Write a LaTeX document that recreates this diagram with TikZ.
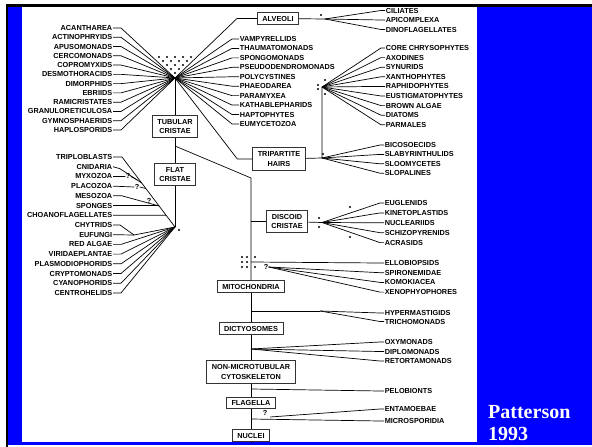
\documentclass[tikz,border=0pt]{standalone}
\usepackage{fontspec}
\setmainfont{Liberation Sans}
\newfontfamily\yearfont{Liberation Serif}
\usetikzlibrary{calc}

\begin{document}
\begin{tikzpicture}[x=1pt, y=-1pt,
    taxon/.style={font=\bfseries\fontsize{7.3}{8}\selectfont, inner sep=0.6pt},
    feature/.style={draw=black!80, line width=0.9pt, fill=white,
      font=\bfseries\fontsize{7.3}{9.5}\selectfont, align=center,
      inner xsep=5pt, inner ysep=3pt},
    twoline/.style={feature, inner ysep=4pt},
    link/.style={line width=0.7pt},
    qmark/.style={taxon, inner sep=0.3pt}]
  \useasboundingbox (0,0) rectangle (592,447);
  \fill[blue] (8,7) rectangle (592,445);% slide background
  \fill[white] (22,7) rectangle (477,442);% the panel
  \fill[black] (6,4) rectangle (592,7);
  \fill[black] (6,4) rectangle (8,447);
  \node[anchor=north west, inner sep=0pt, text=white, align=left,
    font=\yearfont\bfseries\fontsize{20}{22}\selectfont] (Ref) at (488,405) {Patterson\\1993};

  % the boxes on the stem
  \node[feature] (Alveoli) at (278,18.5) {ALVEOLI};
  \node[twoline] (Tubular) at (175,126.5) {TUBULAR\\CRISTAE};
  \node[twoline] (Tripartite) at (279,159) {TRIPARTITE\\HAIRS};
  \node[twoline] (Flat) at (175,174.5) {FLAT\\CRISTAE};
  \node[twoline] (Discoid) at (287,221.5) {DISCOID\\CRISTAE};
  \node[feature] (Mito) at (251,286.5) {MITOCHONDRIA};
  \node[feature] (Dicty) at (251,328.5) {DICTYOSOMES};
  \node[twoline] (NonMicro) at (251,372) {NON-MICROTUBULAR\\CYTOSKELETON};
  \node[feature] (Flag) at (251,403) {FLAGELLA};
  \node[feature] (Nuclei) at (251,435.5) {NUCLEI};

  \coordinate (TubFan)     at (175,78);
  \coordinate (AlvFan)     at (325,19);
  \coordinate (StrFan)     at (322,87);
  \coordinate (TripFan)    at (322,158);
  \coordinate (FlatFan)    at (175,227);
  \coordinate (DiscFan)    at (322,222.5);
  \coordinate (TubBranch)  at (175,146);
  \coordinate (TrunkBend)  at (251,178);
  \coordinate (DiscJoin)   at (251,221.5);
  \coordinate (MitoJoin)   at (251,262);
  \coordinate (HypJoin)    at (251,311);
  \coordinate (HypSplit)   at (320,311);
  \coordinate (OxyJoin)    at (251,349);
  \coordinate (PeloJoin)   at (251,389);
  \coordinate (MicJoin)    at (251,419);
  \coordinate (EntStart)   at (270,417);
  \coordinate (Root)       at (251,442);

  % main stem
  \draw[link] (TubFan) -- (Tubular);
  \draw[link] (Tubular) -- (Flat);
  \draw[link] (Flat) -- (FlatFan);
  \draw[link] (TubBranch) -- (TrunkBend) -- (Mito);
  \draw[link] (Mito) -- (Dicty);
  \draw[link] (Dicty) -- (NonMicro);
  \draw[link] (NonMicro) -- (Flag);
  \draw[link] (Flag) -- (Nuclei);
  \draw[link] (Nuclei) -- (Root);
  \draw[link] (Alveoli.west) -- ++(-20,0) -- (TubFan);
  \draw[link] (Alveoli) -- (AlvFan);
  \draw[link] (Tripartite.west) -- ++(-15,0) -- (TubFan);
  \draw[link] (Tripartite) -- (TripFan) -- (StrFan);
  \draw[link] (DiscJoin) -- (Discoid);
  \draw[link] (Discoid) -- (DiscFan);

  % dots over the forks
  \foreach \r in {0,...,4}{%
    \pgfmathtruncatemacro\lastdot{4-\r}
    \foreach \c in {0,...,\lastdot}
      \fill (159+4*\r+8*\c, 57+4*\r) circle (1.1pt);
  }
  \foreach \p in {(321,15),(325,80),(318,85),(318,89),(325,94),(323,154),(179,230),
      (319,218),(319,227),(350,207),(350,237),(255,257),(255,267)}
    \fill \p circle (1.1pt);
  \foreach \px in {242,247}
    \foreach \py in {257,262,267}
      \fill (\px,\py) circle (1.1pt);

  % left of the first fork
  \foreach \taxname [count=\i] in {ACANTHAREA, ACTINOPHRYIDS, APUSOMONADS, CERCOMONADS,
      COPROMYXIDS, DESMOTHORACIDS, DIMORPHIDS, EBRIIDS, RAMICRISTATES, GRANULORETICULOSA,
      GYMNOSPHAERIDS, HAPLOSPORIDS}{%
    \node[taxon, anchor=east] (TubL\i) at (113,{28+9.27*(\i-1)}) {\taxname};
    \draw[link] (TubL\i.east) -- ++(8,0) -- (TubFan);
  }
  % right of the first fork
  \foreach \taxname [count=\i] in {VAMPYRELLIDS, THAUMATOMONADS, SPONGOMONADS,
      PSEUDODENDROMONADS, POLYCYSTINES, PHAEODAREA, PARAMYXEA, KATHABLEPHARIDS,
      HAPTOPHYTES, EUMYCETOZOA}{%
    \node[taxon, anchor=west] (TubR\i) at (239,{39+9.44*(\i-1)}) {\taxname};
    \draw[link] (TubR\i.west) -- ++(-7,0) -- (TubFan);
  }
  \foreach \taxname [count=\i] in {CILIATES, APICOMPLEXA, DINOFLAGELLATES}{%
    \node[taxon, anchor=west] (Alv\i) at (385,{10.5+9.5*(\i-1)}) {\taxname};
    \draw[link] (Alv\i.west) -- ++(-4,0) -- (AlvFan);
  }
  \foreach \taxname [count=\i] in {CORE CHRYSOPHYTES, AXODINES, SYNURIDS, XANTHOPHYTES,
      RAPHIDOPHYTES, EUSTIGMATOPHYTES, BROWN ALGAE, DIATOMS, PARMALES}{%
    \node[taxon, anchor=west] (Str\i) at (385,{48+9.6*(\i-1)}) {\taxname};
    \draw[link] (Str\i.west) -- ++(-4,0) -- (StrFan);
  }
  \foreach \taxname [count=\i] in {BICOSOECIDS, SLABYRINTHULIDS, SLOOMYCETES, SLOPALINES}{%
    \node[taxon, anchor=west] (Trip\i) at (384,{145+9.4*(\i-1)}) {\taxname};
    \draw[link] (Trip\i.west) -- ++(-4,0) -- (TripFan);
  }
  \foreach \taxname [count=\i] in {EUGLENIDS, KINETOPLASTIDS, NUCLEARIIDS, SCHIZOPYRENIDS,
      ACRASIDS}{%
    \node[taxon, anchor=west] (Disc\i) at (384,{203+9.9*(\i-1)}) {\taxname};
    \draw[link] (Disc\i.west) -- ++(-4,0) -- (DiscFan);
  }

  % below the mitochondria
  \node[qmark] (QMito) at (266,267) {?};
  \foreach \taxname [count=\i] in {ELLOBIOPSIDS, SPIRONEMIDAE, KOMOKIACEA, XENOPHYOPHORES}
    \node[taxon, anchor=west] (MitoR\i) at (384,{263+9.7*(\i-1)}) {\taxname};
  \draw[link] (MitoR1.west) -- ++(-4,0) -- (MitoJoin);
  \foreach \i in {2,3,4}
    \draw[link] (MitoR\i.west) -- ++(-4,0) -- (QMito.east);

  \node[taxon, anchor=west] (Hyper) at (384,313) {HYPERMASTIGIDS};
  \node[taxon, anchor=west] (Tricho) at (384,321.5) {TRICHOMONADS};
  \draw[link] (HypJoin) -- (HypSplit);
  \draw[link] (Hyper.west) -- ++(-4,0) -- (HypSplit);
  \draw[link] (Tricho.west) -- ++(-4,0) -- (HypSplit);

  \foreach \taxname [count=\i] in {OXYMONADS, DIPLOMONADS, RETORTAMONADS}{%
    \node[taxon, anchor=west] (Oxy\i) at (384,{342+9.5*(\i-1)}) {\taxname};
    \draw[link] (Oxy\i.west) -- ++(-4,0) -- (OxyJoin);
  }
  \node[taxon, anchor=west] (Pelo) at (384,391) {PELOBIONTS};
  \draw[link] (Pelo.west) -- ++(-4,0) -- (PeloJoin);

  \node[qmark] (QFlag) at (265,413) {?};
  \node[taxon, anchor=west] (Entam) at (384,409) {ENTAMOEBAE};
  \node[taxon, anchor=west] (Micro) at (384,421) {MICROSPORIDIA};
  \draw[link] (Entam.west) -- ++(-4,0) -- (EntStart);
  \draw[link] (Micro.west) -- ++(-4,0) -- (MicJoin);

  % left of the flat cristae
  \foreach \taxname [count=\i] in {TRIPLOBLASTS, CNIDARIA, MYXOZOA, PLACOZOA, MESOZOA,
      SPONGES, CHOANOFLAGELLATES, CHYTRIDS, EUFUNGI, RED ALGAE, VIRIDAEPLANTAE,
      PLASMODIOPHORIDS, CRYPTOMONADS, CYANOPHORIDS, CENTROHELIDS}
    \node[taxon, anchor=east] (FlatL\i) at (113,{157+9.71*(\i-1)}) {\taxname};
  \coordinate (FlatDiag) at (122,157);
  \coordinate (CnidBend) at (120,168.7);
  \coordinate (CnidJoin) at ($(FlatDiag)!0.37!(FlatFan)$);
  \coordinate (Fungi)    at (134,235);
  \node[qmark] (QMyx) at (128,176.4) {?};
  \node[qmark] (QPla) at (137,187) {?};
  \node[qmark] (QMes) at (149,201) {?};
  \draw[link] (FlatL1.east) -- (FlatDiag) -- (FlatFan);
  \draw[link] (FlatL2.east) -- (CnidBend) -- (CnidJoin);
  \draw[link] (FlatL3.east) -- (QMyx.west);
  \draw[link] (QMyx.east) -- ($(CnidBend)!0.8!(CnidJoin)$);
  \draw[link] (FlatL4.east) -- (QPla.west);
  \draw[link] (QPla.east) -- ($(FlatDiag)!0.45!(FlatFan)$);
  \draw[link] (FlatL5.east) -- ++(9,0) -- ($(FlatDiag)!0.70!(FlatFan)$);
  \draw[link] (FlatL6.east) -- ($(FlatDiag)!0.694!(FlatFan)$);
  \draw[link] (FlatL7.east) -- ($(FlatDiag)!0.832!(FlatFan)$);
  \draw[link] (FlatL8.east) -- ++(7,0) -- (Fungi);
  \draw[link] (FlatL9.east) -- (Fungi) -- (FlatFan);
  \foreach \i in {10,...,15}
    \draw[link] (FlatL\i.east) -- ++(8,0) -- (FlatFan);
\end{tikzpicture}
\end{document}
